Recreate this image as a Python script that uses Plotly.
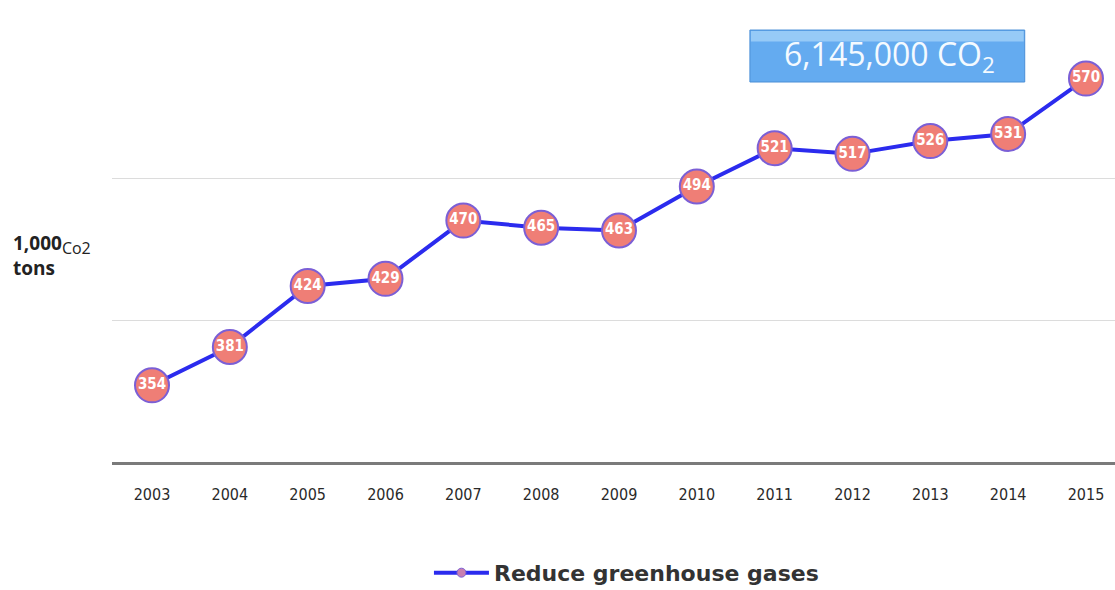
import plotly.graph_objects as go

years = [2003, 2004, 2005, 2006, 2007, 2008, 2009, 2010, 2011, 2012, 2013, 2014, 2015]
values = [354, 381, 424, 429, 470, 465, 463, 494, 521, 517, 526, 531, 570]
series_name = "Reduce greenhouse gases"
total_label = "6,145,000 CO<sub>2</sub>"

fig = go.Figure()
fig.add_trace(go.Scatter(
    x=years, y=values, mode="lines+markers+text",
    text=[str(v) for v in values], textposition="middle center",
    textfont=dict(family="Liberation Sans Narrow, DejaVu Sans Condensed, sans-serif", size=15, color="white", weight="bold"),
    line=dict(color="#2B2BEE", width=4),
    marker=dict(size=34, color="#EF7E76", line=dict(color="#7B5FD6", width=2)),
    showlegend=False, hoverinfo="skip",
))
fig.add_trace(go.Scatter(
    x=[None], y=[None], mode="lines+markers", name=series_name,
    line=dict(color="#2B2BEE", width=4),
    marker=dict(size=9, color="#C77FB0", line=dict(color="#7B5FD6", width=1)),
))

fig.update_layout(
    width=1115, height=590,
    margin=dict(l=112, r=0, t=36, b=128),
    paper_bgcolor="white", plot_bgcolor="white",
    showlegend=True,
    legend=dict(orientation="h", x=0.316, xanchor="left", yref="container", y=0.029, yanchor="middle",
                itemwidth=55,
                font=dict(family="DejaVu Sans, sans-serif", size=22, color="#333333", weight="bold")),
    xaxis=dict(range=[2002.486, 2015.373], tickvals=years, ticktext=[str(y) for y in years],
               showgrid=False, showline=True, linecolor="#7a7a7a", linewidth=3,
               ticks="", ticklabelstandoff=16, zeroline=False,
               tickfont=dict(family="Liberation Sans Narrow, DejaVu Sans Condensed, sans-serif", size=16, color="#2a2a2a")),
    yaxis=dict(range=[300, 600], tickvals=[400, 500], showticklabels=False,
               showgrid=True, gridcolor="#dcdcdc", gridwidth=1, zeroline=False, showline=False),
)

# total box
fig.add_shape(type="rect", xref="paper", yref="paper", x0=0.636, x1=0.910, y0=0.892, y1=1.014,
              fillcolor="#64ABF0", line=dict(color="#4A8ED6", width=1), layer="above")
fig.add_shape(type="rect", xref="paper", yref="paper", x0=0.637, x1=0.909, y0=0.987, y1=1.012,
              fillcolor="#96CAF7", line=dict(width=0), layer="above")
fig.add_annotation(xref="paper", yref="paper", x=0.775, y=0.953, text=total_label, showarrow=False,
                   font=dict(family="Open Sans, sans-serif", size=32, color="#F4FAFF"),
                   xanchor="center", yanchor="middle")

# y-axis unit label
fig.add_annotation(xref="paper", yref="paper", x=-0.101, y=0.484, xanchor="left", yanchor="middle",
                   align="left", showarrow=False,
                   text="<b>1,000</b><sub><span style='font-weight:normal;font-size:16px'>Co2</span></sub><br><b>tons</b>",
                   font=dict(family="Open Sans, sans-serif", size=19, color="#222222"))

fig.write_html("out.html")
